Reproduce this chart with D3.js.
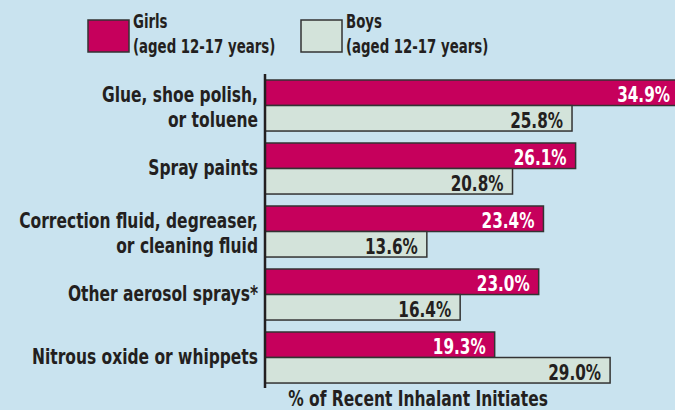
<!DOCTYPE html>
<html>
<head>
<meta charset="utf-8">
<script src="https://cdn.jsdelivr.net/npm/d3@7"></script>
<style>
  html, body { margin: 0; padding: 0; background: #c9e3ef; overflow: hidden; }
  svg { display: block; font-family: "DejaVu Sans Condensed", "DejaVu Sans", sans-serif; font-weight: bold; }
</style>
</head>
<body>
<svg id="chart" width="675" height="410"></svg>
<script>
// data
const categories = [
  ["Glue, shoe polish,", "or toluene"],
  ["Spray paints"],
  ["Correction fluid, degreaser,", "or cleaning fluid"],
  ["Other aerosol sprays*"],
  ["Nitrous oxide or whippets"],
];
const girls = [34.9, 26.1, 23.4, 23.0, 19.3];
const boys = [25.8, 20.8, 13.6, 16.4, 29.0];
const seriesNames = ["Girls", "Boys"];
const seriesNote = "(aged 12-17 years)";
const axisTitle = "% of Recent Inhalant Initiates";

const colors = { Girls: "#c6005c", Boys: "#d3e3da" };
const labelColors = { Girls: "#ffffff", Boys: "#231f20" };
const ink = "#231f20";

const svg = d3.select("#chart");
const x0 = 265;

// the original face is a narrow grotesque, so squeeze the text sideways
function squeeze(x, k) {
  return (d, i) => `translate(${typeof x === "function" ? x(d, i) : x},0) scale(${k},1)`;
}

const datas = categories.map((c, i) => ({
  label: c,
  values: [
    { key: "Girls", value: girls[i] },
    { key: "Boys", value: boys[i] },
  ],
}));

const x = d3.scaleLinear().domain([0, 30]).range([x0, x0 + 30 * 11.9]);
const y = d3.scaleBand()
  .domain(d3.range(categories.length))
  .range([80, 80 + 63 * (categories.length - 0.19)])
  .paddingInner(0.19)
  .paddingOuter(0);
const ySub = d3.scaleBand().domain(seriesNames).range([0, y.bandwidth()]);

// bars
const groups = svg.selectAll("g.group")
  .data(datas)
  .enter()
  .append("g")
  .attr("class", "group")
  .attr("transform", (d, i) => `translate(0,${y(i)})`);

groups.selectAll("rect")
  .data((d) => d.values)
  .enter()
  .append("rect")
  .attr("x", x(0))
  .attr("y", (d) => ySub(d.key))
  .attr("width", (d) => x(d.value) - x(0))
  .attr("height", ySub.bandwidth())
  .attr("fill", (d) => colors[d.key])
  .attr("stroke", "#333")
  .attr("stroke-width", 1.5);

groups.selectAll("text.val")
  .data((d) => d.values)
  .enter()
  .append("text")
  .attr("class", "val")
  .attr("transform", squeeze((d) => Math.min(x(d.value), 679) - 9, 0.77))
  .attr("x", 0)
  .attr("y", (d) => ySub(d.key) + ySub.bandwidth() - 3)
  .attr("text-anchor", "end")
  .attr("font-size", 22)
  .attr("fill", (d) => labelColors[d.key])
  .text((d) => d.value.toFixed(1) + "%");

// category labels
groups.append("text")
  .attr("text-anchor", "end")
  .attr("font-size", 21)
  .attr("fill", ink)
  .attr("transform", squeeze(258, 0.82))
  .each(function (d) {
    const n = d.label.length;
    const mid = y.bandwidth() / 2;
    d3.select(this).selectAll("tspan")
      .data(d.label)
      .enter()
      .append("tspan")
      .attr("x", 0)
      .attr("y", (t, j) => mid + 6 - 10 * (n - 1) + 25 * j)
      .text((t) => t);
  });

// axis line
svg.append("line")
  .attr("x1", x0).attr("x2", x0)
  .attr("y1", 74).attr("y2", 388)
  .attr("stroke", ink)
  .attr("stroke-width", 2.5);

// axis title
svg.append("text")
  .attr("transform", squeeze(418, 0.82))
  .attr("x", 0)
  .attr("y", 406)
  .attr("text-anchor", "middle")
  .attr("font-size", 21)
  .attr("fill", ink)
  .text(axisTitle);

// legend
const legendX = [88, 301];
const legend = svg.selectAll("g.legend")
  .data(seriesNames)
  .enter()
  .append("g")
  .attr("class", "legend")
  .attr("transform", (d, i) => `translate(${legendX[i]},20)`);

legend.append("rect")
  .attr("width", 41)
  .attr("height", 32)
  .attr("fill", (d) => colors[d])
  .attr("stroke", "#333")
  .attr("stroke-width", 1.5);

legend.append("text")
  .attr("transform", squeeze(45, 0.78))
  .attr("y", 8)
  .attr("font-size", 19)
  .attr("fill", ink)
  .text((d) => d);

legend.append("text")
  .attr("transform", squeeze(45, 0.78))
  .attr("y", 33)
  .attr("font-size", 19)
  .attr("fill", ink)
  .text(seriesNote);
</script>
</body>
</html>
